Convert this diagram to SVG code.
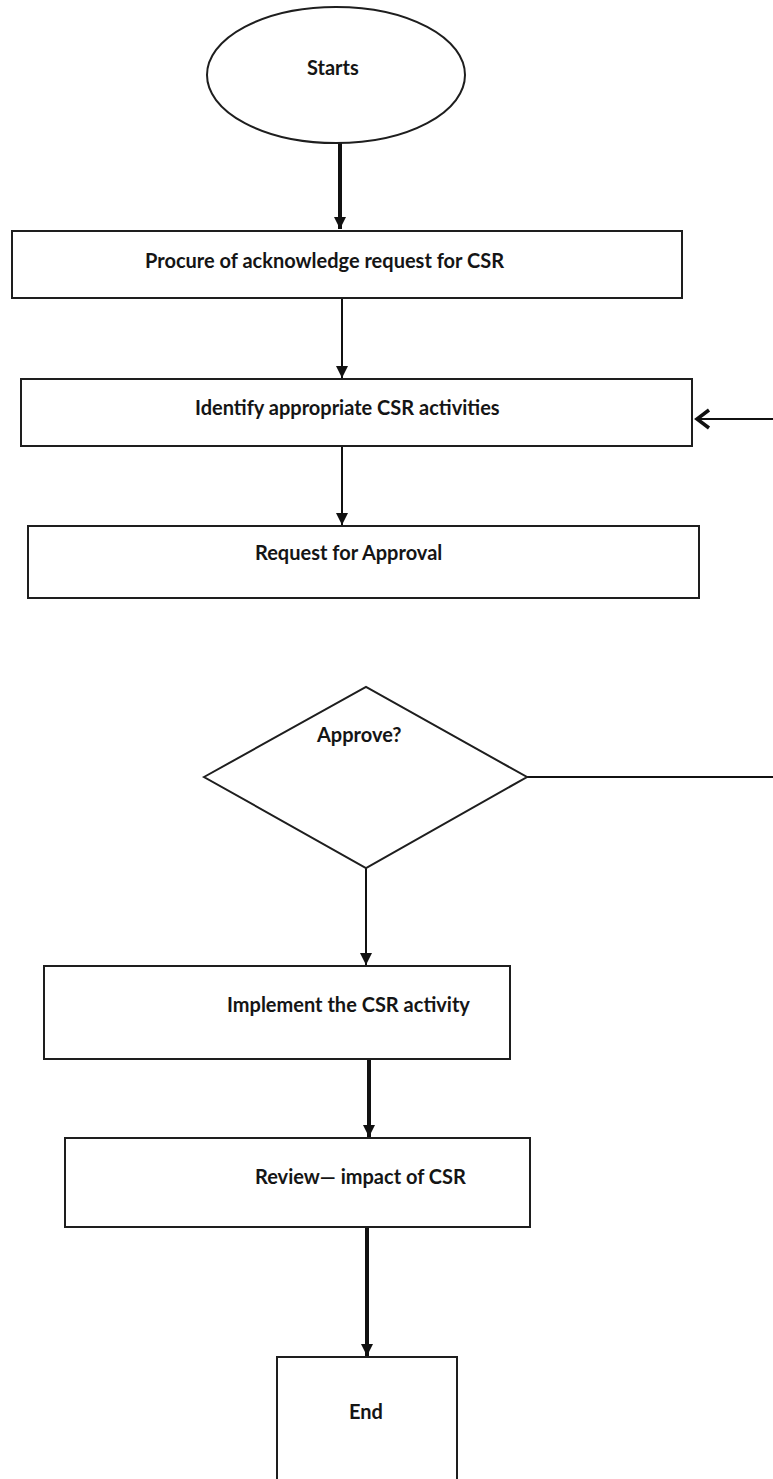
<svg xmlns="http://www.w3.org/2000/svg" width="773" height="1479" viewBox="0 0 773 1479">
<defs>
<style>
.box{fill:#fff;stroke:#1e1e1e;stroke-width:2}
.lbl{font-family:Lato,"Liberation Sans",sans-serif;font-weight:700;font-size:20px;fill:#151515}
.thin{fill:none;stroke:#111;stroke-width:2}
.thick{fill:none;stroke:#111;stroke-width:4}
</style>
<marker id="tri" markerUnits="userSpaceOnUse" markerWidth="14" markerHeight="14" viewBox="0 0 14 14" refX="13" refY="7" orient="auto">
<path d="M1,1 L13,7 L1,13 Z" fill="#111"/>
</marker>
</defs>
<rect width="773" height="1479" fill="#fff"/>
<g id="connectors">
<line class="thick" x1="340" y1="143" x2="340" y2="229" marker-end="url(#tri)"/>
<line class="thin" x1="342" y1="298" x2="342" y2="378" marker-end="url(#tri)"/>
<line class="thin" x1="342" y1="446" x2="342" y2="525" marker-end="url(#tri)"/>
<line class="thin" x1="527" y1="777" x2="773" y2="777"/>
<line class="thin" x1="773" y1="419" x2="697" y2="419"/>
<path d="M709,410 L697,419 L709,428" fill="none" stroke="#111" stroke-width="3.5"/>
<line class="thin" x1="366" y1="868" x2="366" y2="965" marker-end="url(#tri)"/>
<line class="thick" x1="369" y1="1059" x2="369" y2="1137" marker-end="url(#tri)"/>
<line class="thick" x1="367" y1="1227" x2="367" y2="1356" marker-end="url(#tri)"/>
</g>
<g id="start">
<ellipse class="box" cx="336" cy="75" rx="129" ry="68"/>
<text class="lbl" x="307" y="75">Starts</text>
</g>
<g id="procure">
<rect class="box" x="12" y="231" width="670" height="67"/>
<text class="lbl" x="145" y="268">Procure of acknowledge request for CSR</text>
</g>
<g id="identify">
<rect class="box" x="21" y="379" width="671" height="67"/>
<text class="lbl" x="195" y="415">Identify appropriate CSR activities</text>
</g>
<g id="request">
<rect class="box" x="28" y="526" width="671" height="72"/>
<text class="lbl" x="255" y="560">Request for Approval</text>
</g>
<g id="approve">
<polygon class="box" points="204,777 366,687 527,777 366,868"/>
<text class="lbl" x="317" y="742">Approve?</text>
</g>
<g id="implement">
<rect class="box" x="44" y="966" width="466" height="93"/>
<text class="lbl" x="227" y="1012">Implement the CSR activity</text>
</g>
<g id="review">
<rect class="box" x="65" y="1138" width="465" height="89"/>
<text class="lbl" x="255" y="1184">Review— impact of CSR</text>
</g>
<g id="end">
<rect class="box" x="277" y="1357" width="180" height="130"/>
<text class="lbl" x="349" y="1419">End</text>
</g>
</svg>
